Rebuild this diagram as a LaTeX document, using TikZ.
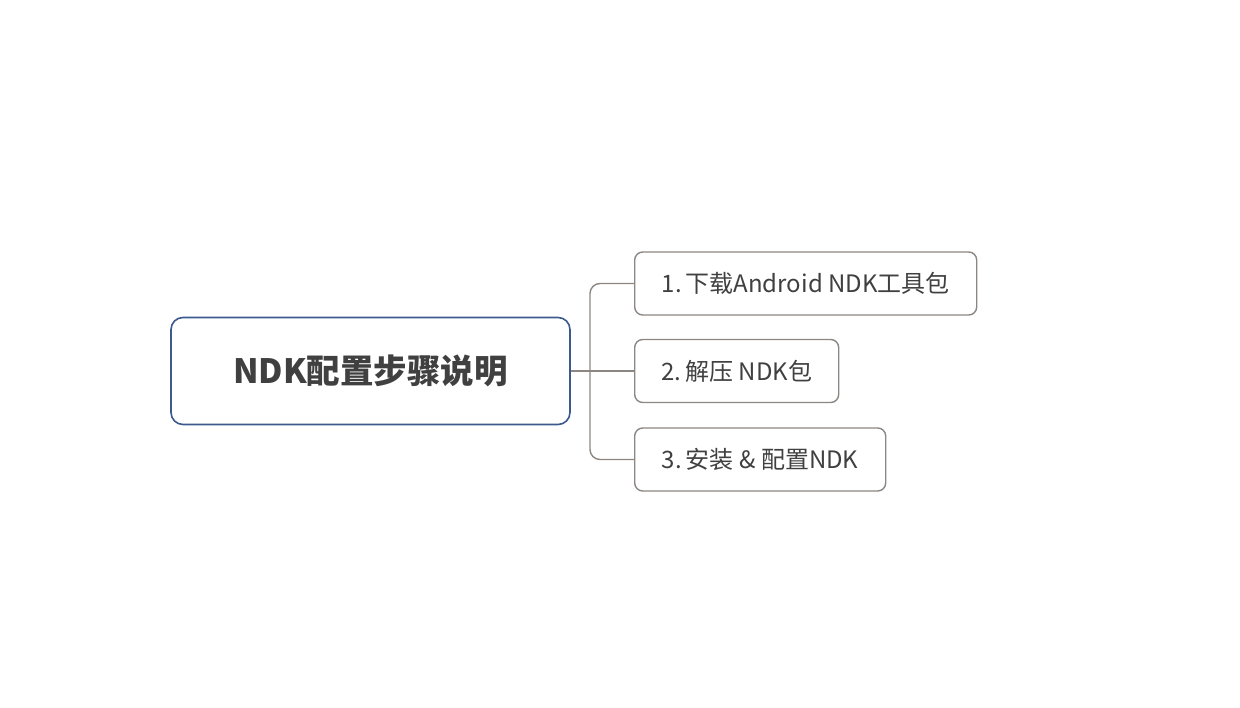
\documentclass[tikz,border=0pt]{standalone}
\usepackage{fontspec}
\setmainfont{Noto Sans CJK SC}
\usetikzlibrary{positioning}

\definecolor{rootblue}{HTML}{3D5A8F}
\definecolor{stepgray}{HTML}{8C8782}
\definecolor{textgray}{HTML}{404040}

\begin{document}
\begin{tikzpicture}[x=1pt, y=-1pt,
    rootbox/.style={draw=rootblue, line width=1.6pt, rounded corners=12pt, fill=white,
        minimum width=399pt, minimum height=107pt, inner sep=0pt,
        text=textgray, font=\fontsize{33.5}{40}\selectfont\bfseries},
    stepbox/.style={draw=stepgray, line width=1.4pt, rounded corners=8pt, fill=white,
        minimum height=63pt, inner sep=0pt, anchor=west,
        text=textgray, font=\fontsize{24}{28}\selectfont},
    link/.style={draw=stepgray, line width=1.4pt}]

    \useasboundingbox (0, 0) rectangle (1240, 708);

    % root
    \node[rootbox] (root) at (370.5, 371) {NDK配置步骤说明};

    % steps
    \node[stepbox, minimum width=342pt] (s1) at (634, 283.5) {1.\,下载Android NDK工具包};
    \node[stepbox, minimum width=204pt] (s2) at (634, 371) {2.\,解压 NDK包};
    \node[stepbox, minimum width=251pt] (s3) at (634, 459.5) {3.\,安装 \& 配置NDK};

    % connectors
    \coordinate (spine) at (590, 371);
    \draw[link] (root.east) -- (s2.west);
    \draw[link, rounded corners=10pt] (s1.west) -- (spine |- s1.west) -- (spine |- s3.west) -- (s3.west);

\end{tikzpicture}
\end{document}
